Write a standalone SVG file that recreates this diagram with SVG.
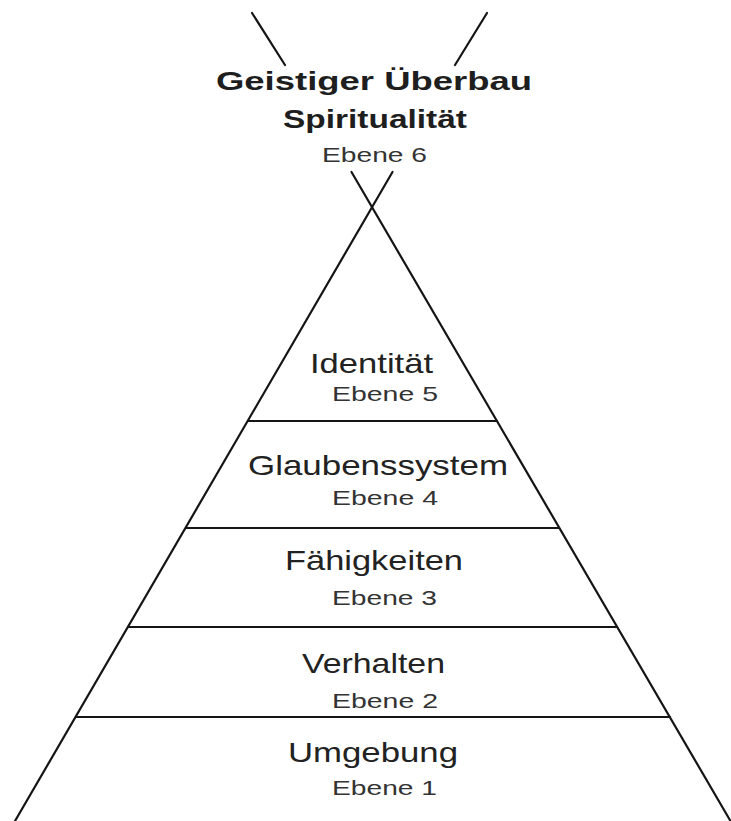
<svg xmlns="http://www.w3.org/2000/svg" width="731" height="821" viewBox="0 0 731 821">
<style>
.ln{stroke:#151515;stroke-width:2.2;stroke-linecap:round;fill:none}
.t{font-family:"Liberation Sans",Arial,sans-serif;fill:#222;text-anchor:start}
.big{font-size:28px}
.bold{font-size:26px;font-weight:bold;fill:#1e1e1e}
.sm{font-size:21px;fill:#333}
</style>
<rect width="731" height="821" fill="#fff"/>
<g id="connectors">
<line class="ln" x1="252" y1="13" x2="285" y2="65"/>
<line class="ln" x1="487" y1="13" x2="455" y2="65"/>
<line class="ln" x1="392.5" y1="172" x2="15" y2="821"/>
<line class="ln" x1="351.5" y1="172" x2="730.5" y2="821"/>
<line class="ln" x1="248" y1="421" x2="497" y2="421"/>
<line class="ln" x1="186" y1="528" x2="559" y2="528"/>
<line class="ln" x1="128" y1="627" x2="617" y2="627"/>
<line class="ln" x1="76" y1="717" x2="670" y2="717"/>
</g>
<g id="level6">
<text class="t bold" x="216" y="90" textLength="316" lengthAdjust="spacingAndGlyphs">Geistiger Überbau</text>
<text class="t bold" x="283" y="128" textLength="184" lengthAdjust="spacingAndGlyphs">Spiritualität</text>
<text class="t sm" x="322" y="162" textLength="105" lengthAdjust="spacingAndGlyphs">Ebene 6</text>
</g>
<g id="level5">
<text class="t big" x="310" y="373" textLength="123" lengthAdjust="spacingAndGlyphs">Identität</text>
<text class="t sm" x="332" y="401" textLength="106" lengthAdjust="spacingAndGlyphs">Ebene 5</text>
</g>
<g id="level4">
<text class="t big" x="248" y="475" textLength="260" lengthAdjust="spacingAndGlyphs">Glaubenssystem</text>
<text class="t sm" x="332" y="505" textLength="106" lengthAdjust="spacingAndGlyphs">Ebene 4</text>
</g>
<g id="level3">
<text class="t big" x="285" y="570" textLength="178" lengthAdjust="spacingAndGlyphs">Fähigkeiten</text>
<text class="t sm" x="332" y="605" textLength="105" lengthAdjust="spacingAndGlyphs">Ebene 3</text>
</g>
<g id="level2">
<text class="t big" x="302" y="673" textLength="143" lengthAdjust="spacingAndGlyphs">Verhalten</text>
<text class="t sm" x="332" y="708" textLength="106" lengthAdjust="spacingAndGlyphs">Ebene 2</text>
</g>
<g id="level1">
<text class="t big" x="288" y="762" textLength="170" lengthAdjust="spacingAndGlyphs">Umgebung</text>
<text class="t sm" x="332" y="795" textLength="105" lengthAdjust="spacingAndGlyphs">Ebene 1</text>
</g>
</svg>
